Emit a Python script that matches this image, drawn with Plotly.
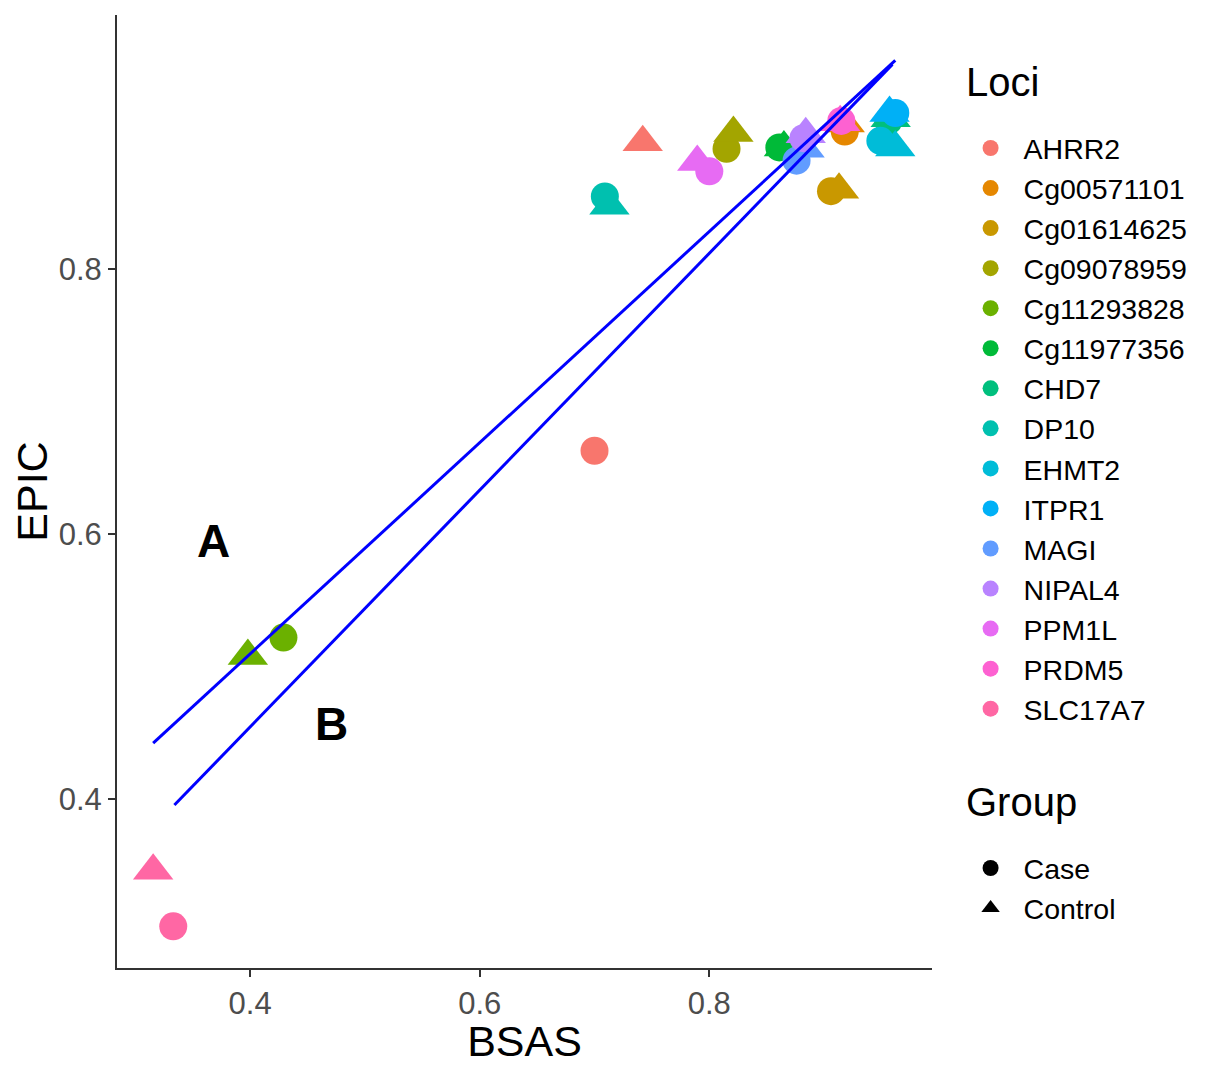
import plotly.graph_objects as go

# ---- data ----
loci = ["AHRR2", "Cg00571101", "Cg01614625", "Cg09078959", "Cg11293828",
        "Cg11977356", "CHD7", "DP10", "EHMT2", "ITPR1", "MAGI", "NIPAL4",
        "PPM1L", "PRDM5", "SLC17A7"]
colors = ["#F8766D", "#E58700", "#C99800", "#A3A500", "#6BB100", "#00BA38",
          "#00BF7D", "#00C0AF", "#00BCD8", "#00B0F6", "#619CFF", "#B983FF",
          "#E76BF3", "#FD61D1", "#FF67A4"]
bsas_case = [0.700, 0.918, 0.906, 0.815, 0.429, 0.861, 0.956, 0.709, 0.949,
             0.962, 0.876, 0.882, 0.800, 0.915, 0.333]
epic_case = [0.663, 0.904, 0.859, 0.891, 0.522, 0.892, 0.912, 0.855, 0.897,
             0.918, 0.882, 0.899, 0.874, 0.912, 0.304]
bsas_control = [0.742, 0.918, 0.913, 0.821, 0.398, 0.865, 0.958, 0.713, 0.962,
                0.957, 0.883, 0.884, 0.7895, 0.914, 0.3155]
epic_control = [0.896, 0.910, 0.860, 0.903, 0.508, 0.892, 0.914, 0.848, 0.892,
                0.918, 0.891, 0.902, 0.881, 0.911, 0.346]

# fitted lines (end points)
line_a_x = [0.3155, 0.962]
line_a_y = [0.4423, 0.9577]
line_b_x = [0.334, 0.9595]
line_b_y = [0.3955, 0.9547]

label_text = ["A", "B"]
label_x = [0.368, 0.4706]
label_y = [0.5947, 0.4566]

groups = ["Case", "Control"]
group_symbols = ["circle", "triangle-up"]

x_ticks = [0.4, 0.6, 0.8]
y_ticks = [0.4, 0.6, 0.8]

FONT = "Liberation Sans, Arial, sans-serif"

fig = go.Figure()

# data points
for i, name in enumerate(loci):
    fig.add_trace(go.Scatter(
        x=[bsas_case[i]], y=[epic_case[i]], mode="markers",
        marker=dict(symbol="circle", size=28, color=colors[i], line=dict(width=0)),
        showlegend=False, hoverinfo="skip"))
    fig.add_trace(go.Scatter(
        x=[bsas_control[i]], y=[epic_control[i]], mode="markers",
        marker=dict(symbol="triangle-up", size=35, color=colors[i], line=dict(width=0)),
        showlegend=False, hoverinfo="skip"))

# lines
fig.add_trace(go.Scatter(x=line_a_x, y=line_a_y, mode="lines",
                         line=dict(color="#0000FF", width=3),
                         showlegend=False, hoverinfo="skip"))
fig.add_trace(go.Scatter(x=line_b_x, y=line_b_y, mode="lines",
                         line=dict(color="#0000FF", width=3),
                         showlegend=False, hoverinfo="skip"))

# legend entries: Loci
for i, name in enumerate(loci):
    fig.add_trace(go.Scatter(
        x=[None], y=[None], mode="markers", name=name, legend="legend",
        marker=dict(symbol="circle", size=28, color=colors[i])))
# legend entries: Group
for g, s in zip(groups, group_symbols):
    fig.add_trace(go.Scatter(
        x=[None], y=[None], mode="markers", name=g, legend="legend2",
        marker=dict(symbol=s, size=28, color="black")))

for t, lx, ly in zip(label_text, label_x, label_y):
    fig.add_annotation(x=lx, y=ly, text="<b>%s</b>" % t, showarrow=False,
                       font=dict(family=FONT, size=46, color="black"),
                       xanchor="center", yanchor="middle")

# legend titles
fig.add_annotation(x=1.0393, y=0.9549, xref="paper", yref="paper",
                   text="Loci", showarrow=False, xanchor="left", yanchor="top",
                   font=dict(family=FONT, size=40, color="black"))
fig.add_annotation(x=1.0393, y=0.1994, xref="paper", yref="paper",
                   text="Group", showarrow=False, xanchor="left", yanchor="top",
                   font=dict(family=FONT, size=40, color="black"))

fig.update_layout(
    width=1214, height=1057,
    margin=dict(l=109, r=290, t=7, b=97),
    paper_bgcolor="white", plot_bgcolor="white",
    font=dict(family=FONT, color="black"),
    xaxis=dict(range=[0.284, 0.994], tickvals=x_ticks,
               ticktext=[str(v) for v in x_ticks],
               showgrid=False, zeroline=False,
               showline=True, linecolor="#333333", linewidth=2,
               ticks="outside", ticklen=7, tickwidth=2, tickcolor="#333333",
               tickfont=dict(size=31, color="#4D4D4D", family=FONT),
               title=dict(text="BSAS", font=dict(size=43, color="black", family=FONT),
                          standoff=6)),
    yaxis=dict(range=[0.2725, 0.992], tickvals=y_ticks,
               ticktext=[str(v) for v in y_ticks],
               showgrid=False, zeroline=False,
               showline=True, linecolor="#333333", linewidth=2,
               ticks="outside", ticklen=7, tickwidth=2, tickcolor="#333333",
               tickfont=dict(size=31, color="#4D4D4D", family=FONT),
               title=dict(text="EPIC", font=dict(size=43, color="black", family=FONT),
                          standoff=8)),
    legend=dict(font=dict(size=28.5, family=FONT, color="black"),
                x=1.0314, y=0.8867, xanchor="left", yanchor="top",
                itemwidth=56,
                bgcolor="rgba(0,0,0,0)", tracegroupgap=0),
    legend2=dict(font=dict(size=28.5, family=FONT, color="black"),
                 x=1.0314, y=0.1312, xanchor="left", yanchor="top",
                 itemwidth=56,
                 bgcolor="rgba(0,0,0,0)", tracegroupgap=0),
)

fig.write_html("out.html")
